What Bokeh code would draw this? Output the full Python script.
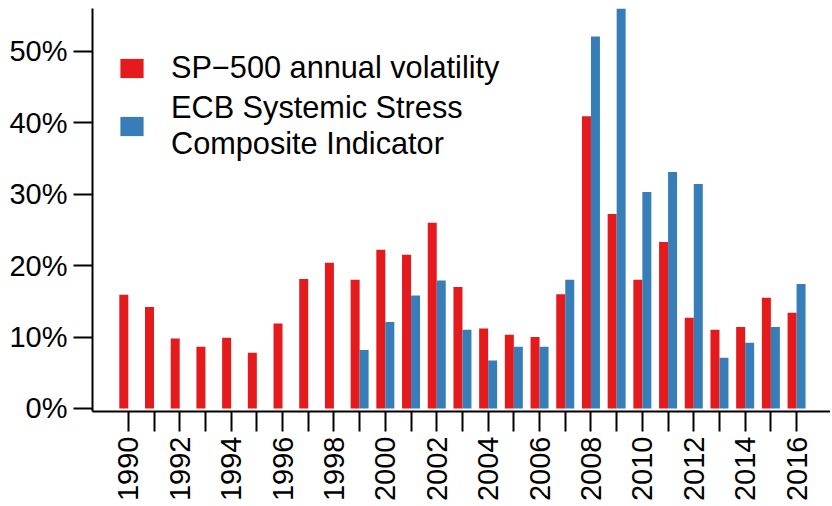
import math
from bokeh.plotting import figure
from bokeh.models import (ColumnDataSource, FixedTicker, PrintfTickFormatter,
                          Legend, LegendItem, Range1d)
from bokeh.transform import dodge
from bokeh.embed import file_html
from bokeh.resources import INLINE

years = list(range(1990, 2017))
sp500 = [15.9, 14.2, 9.8, 8.65, 9.9, 7.8, 11.9, 18.1, 20.4, 18.0, 22.2, 21.5, 26.0,
         17.0, 11.2, 10.3, 10.0, 16.0, 40.9, 27.2, 18.0, 23.3, 12.7, 11.0, 11.4, 15.5, 13.4]
ecb_years = list(range(1999, 2017))
ecb = [8.2, 12.1, 15.8, 17.9, 11.0, 6.7, 8.65, 8.65, 18.0, 52.05, 56.0, 30.3, 33.1,
       31.4, 7.1, 9.2, 11.4, 17.4]
y_ticks = [0, 10, 20, 30, 40, 50]
label_years = list(range(1990, 2017, 2))
minor_years = list(range(1991, 2017, 2))

RED = "#E41A1C"
BLUE = "#377EB8"
FONT = "Liberation Sans"

p = figure(width=830, height=504, output_backend="svg", toolbar_location=None,
           x_range=Range1d(1988.607, 2017.32), y_range=Range1d(-0.42, 55.96),
           min_border_left=92, min_border_right=0, min_border_top=8, min_border_bottom=92)
p.outline_line_color = None
p.grid.visible = False
p.background_fill_color = "white"
p.border_fill_color = "white"

src1 = ColumnDataSource(dict(year=years, v=sp500))
src2 = ColumnDataSource(dict(year=ecb_years, v=ecb))
r1 = p.vbar(x=dodge("year", -0.175, range=p.x_range), top="v", bottom=0, width=0.35,
            source=src1, fill_color=RED, line_color=None)
r2 = p.vbar(x=dodge("year", 0.175, range=p.x_range), top="v", bottom=0, width=0.35,
            source=src2, fill_color=BLUE, line_color=None)

xa = p.xaxis[0]
xa.ticker = FixedTicker(ticks=label_years, minor_ticks=minor_years)
xa.major_label_orientation = math.pi / 2
xa.major_tick_in = 0
xa.major_tick_out = 20
xa.minor_tick_in = 0
xa.minor_tick_out = 20
xa.major_tick_line_width = 2
xa.minor_tick_line_width = 2
xa.major_tick_line_color = "black"
xa.minor_tick_line_color = "black"
xa.axis_line_width = 2
xa.axis_line_color = "black"
xa.major_label_standoff = 5
xa.major_label_text_font = FONT
xa.major_label_text_font_size = "29px"
xa.major_label_text_color = "black"

ya = p.yaxis[0]
ya.ticker = FixedTicker(ticks=y_ticks)
ya.formatter = PrintfTickFormatter(format="%d%%")
ya.major_tick_in = 0
ya.major_tick_out = 19
ya.minor_tick_out = 0
ya.minor_tick_in = 0
ya.major_tick_line_width = 2
ya.major_tick_line_color = "black"
ya.axis_line_width = 2
ya.axis_line_color = "black"
ya.major_label_standoff = 6
ya.major_label_text_font = FONT
ya.major_label_text_font_size = "29px"
ya.major_label_text_color = "black"

legend = Legend(items=[
    LegendItem(label="SP\u2212500 annual volatility", renderers=[r1]),
    LegendItem(label="ECB Systemic Stress\nComposite Indicator", renderers=[r2]),
], location=(25, 249), border_line_color=None, background_fill_alpha=0,
    padding=0, margin=0, spacing=4, glyph_width=29, glyph_height=24,
    label_standoff=25, label_text_font=FONT, label_text_font_size="30.7px",
    label_text_color="black", label_text_line_height=1.2)
p.add_layout(legend)

open("out.html", "w").write(file_html(p, INLINE))
